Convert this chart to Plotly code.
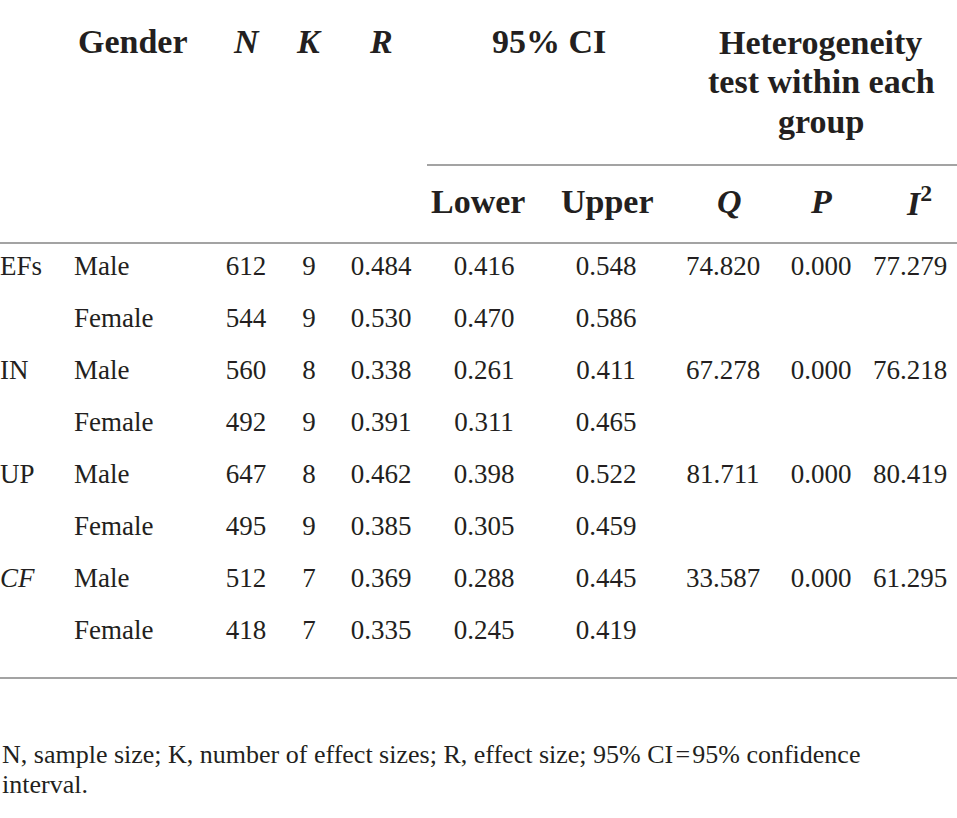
import plotly.graph_objects as go

# table values
groups = ["EFs", "IN", "UP", "<i>CF</i>"]
genders = ["Male", "Female", "Male", "Female", "Male", "Female", "Male", "Female"]
n_vals = [612, 544, 560, 492, 647, 495, 512, 418]
k_vals = [9, 9, 8, 9, 8, 9, 7, 7]
r_vals = [0.484, 0.530, 0.338, 0.391, 0.462, 0.385, 0.369, 0.335]
ci_lower = [0.416, 0.470, 0.261, 0.311, 0.398, 0.305, 0.288, 0.245]
ci_upper = [0.548, 0.586, 0.411, 0.465, 0.522, 0.459, 0.445, 0.419]
q_vals = [74.820, 67.278, 81.711, 33.587]
p_vals = [0.000, 0.000, 0.000, 0.000]
i2_vals = [77.279, 76.218, 80.419, 61.295]

footnote = ["N, sample size; K, number of effect sizes; R, effect size; 95% CI\u200a=\u200a95% confidence",
            "interval."]

W, H = 957, 818
FONT = "Liberation Serif"
INK = "#231f20"
RULE = "#a3a3a3"

row_y = [268 + 52 * i for i in range(len(genders))]
group_y = row_y[::2]

fig = go.Figure()

def col(x, vals, ys, pos="middle center", fmt="{}"):
    fig.add_trace(go.Scatter(
        x=[x] * len(vals), y=ys, mode="text",
        text=[fmt.format(v) for v in vals], textposition=pos,
        textfont=dict(family=FONT, size=27, color=INK),
        hoverinfo="skip", showlegend=False, cliponaxis=False
    ))

col(0, groups, group_y, pos="middle right")
col(74, genders, row_y, pos="middle right")
col(246, n_vals, row_y)
col(309, k_vals, row_y)
col(381, r_vals, row_y, fmt="{:.3f}")
col(484, ci_lower, row_y, fmt="{:.3f}")
col(606, ci_upper, row_y, fmt="{:.3f}")
col(723, q_vals, group_y, fmt="{:.3f}")
col(821, p_vals, group_y, fmt="{:.3f}")
col(910, i2_vals, group_y, fmt="{:.3f}")

# header labels
hdr = [
    ("Gender", 133, 41), ("<i>N</i>", 246, 41), ("<i>K</i>", 309, 41), ("<i>R</i>", 381, 41),
    ("95% CI", 549, 41),
    ("Heterogeneity", 820, 42), ("test within each", 821, 81), ("group", 821, 121),
    ("Lower", 478, 201), ("Upper", 607, 201),
    ("<i>Q</i>", 729, 201), ("<i>P</i>", 821, 201), ("<i>I</i><sup>2</sup>", 919, 201),
]
for txt, x, y in hdr:
    fig.add_annotation(x=x, y=y, xref="x", yref="y", text="<b>" + txt + "</b>",
                       showarrow=False, xanchor="center", yanchor="middle",
                       font=dict(family=FONT, size=34, color=INK))

for i, line in enumerate(footnote):
    fig.add_annotation(x=0, y=754 + 30 * i, xref="x", yref="y", text=line,
                       showarrow=False, xanchor="left", yanchor="middle",
                       font=dict(family=FONT, size=26, color=INK))

# horizontal rules
for x0, x1, y in [(427, W, 165), (0, W, 243), (0, W, 678)]:
    fig.add_shape(type="line", x0=x0, x1=x1, y0=y, y1=y, xref="x", yref="y",
                  line=dict(color=RULE, width=2))

fig.update_layout(
    width=W, height=H, margin=dict(l=0, r=0, t=0, b=0),
    paper_bgcolor="white", plot_bgcolor="white",
    xaxis=dict(range=[0, W], visible=False, fixedrange=True),
    yaxis=dict(range=[H, 0], visible=False, fixedrange=True),
)

fig.write_html("out.html", config={"displayModeBar": False},
               post_script="document.body.style.margin='0';document.body.style.overflow='hidden';")
